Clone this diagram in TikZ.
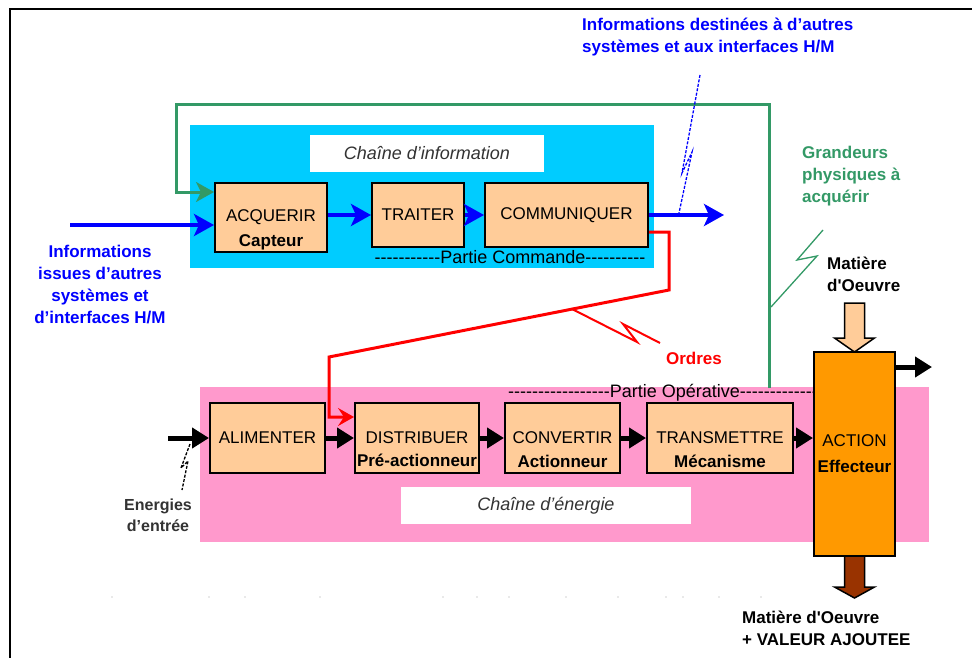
\documentclass[tikz,border=0pt]{standalone}
\usepackage{fontspec}
\setmainfont{Liberation Sans}[Ligatures=TeXOff]
\usetikzlibrary{arrows.meta}
\definecolor{cyanfond}{HTML}{00CCFF}
\definecolor{rosefond}{HTML}{FF99CC}
\definecolor{peche}{HTML}{FFCC99}
\definecolor{orangeact}{HTML}{FF9900}
\definecolor{brunsortie}{HTML}{993300}
\definecolor{vertgr}{HTML}{339966}
\definecolor{gristexte}{HTML}{333333}
\tikzset{
  etape/.style={draw,line width=2pt,fill=peche,inner sep=0pt,font=\fontsize{17}{20}\selectfont},
  sous/.style={anchor=base,inner sep=0pt,font=\bfseries\fontsize{17}{20}\selectfont},
  titre/.style={fill=white,inner sep=0pt,text=gristexte,font=\itshape\fontsize{18}{20}\selectfont},
  partie/.style={anchor=base,inner sep=0pt,font=\fontsize{18}{20}\selectfont},
  legende/.style={inner sep=0pt,align=left,font=\bfseries\fontsize{17}{22}\selectfont},
  bleu/.style={draw=blue,line width=4pt,-{Stealth[length=20pt,width=22pt,inset=5pt]}},
  vert/.style={draw=vertgr,line width=3pt,-{Stealth[length=18pt,width=20pt,inset=5pt]}},
  rouge/.style={draw=red,line width=3pt,-{Stealth[length=16pt,width=18pt,inset=6pt]}},
  noir/.style={draw=black,line width=5pt,-{Triangle[length=17pt,width=20pt]}},
  eclair/.style={line width=1.3pt},
}
\begin{document}
\begin{tikzpicture}[x=1pt,y=-1pt]
\useasboundingbox (0,0) rectangle (972,658);
% cadre
\draw[line width=2pt] (10,658) -- (10,9) -- (972,9);
% fonds des deux chaines
\node[fill=cyanfond,minimum width=464,minimum height=143,inner sep=0pt] (pc) at (422,196.5) {};
\node[fill=rosefond,minimum width=729,minimum height=155,inner sep=0pt] (po) at (564.5,464.5) {};
\node[titre,minimum width=234,minimum height=37] (tInfo) at (427,153.5) {Chaîne d’information};
\node[titre,minimum width=290,minimum height=37] (tEner) at (546,505.5) {Chaîne d’énergie};
% chaine d'information
\node[etape,minimum width=112,minimum height=69] (acq) at (271,217.5) {ACQUERIR};
\node[sous] (capt) at ([yshift=7pt]acq.south) {Capteur};
\node[etape,minimum width=92,minimum height=64] (trait) at (418,215) {TRAITER};
\node[etape,minimum width=163,minimum height=64] (comm) at (566.5,215) {COMMUNIQUER};
\node[partie] (pcmd) at (510,263) {-----------Partie Commande----------};
% chaine d'energie
\node[etape,minimum width=115,minimum height=70] (alim) at (267.5,438) {ALIMENTER};
\node[etape,minimum width=124,minimum height=70] (distr) at (417,438) {DISTRIBUER};
\node[sous] (preact) at ([yshift=8pt]distr.south) {Pré-actionneur};
\node[etape,minimum width=115,minimum height=70] (conv) at (562.5,438) {CONVERTIR};
\node[sous] (actr) at ([yshift=7pt]conv.south) {Actionneur};
\node[etape,minimum width=146,minimum height=70] (trans) at (720,438) {TRANSMETTRE};
\node[sous] (meca) at ([yshift=7pt]trans.south) {Mécanisme};
\node[partie] (pop) at (663,397) {-----------------Partie Opérative-------------};
% matiere d'oeuvre
\draw[line width=1.5pt,fill=peche,shift={(854.5,352)}] (-10,-49) -- (10,-49) -- (10,-14) -- (20,-14) -- (0,0) -- (-20,-14) -- (-10,-14) -- cycle;
\draw[line width=1.5pt,fill=brunsortie,shift={(854.5,556)}] (-10,0) -- (10,0) -- (10,31) -- (20,31) -- (0,42) -- (-20,31) -- (-10,31) -- cycle;
\node[etape,fill=orangeact,minimum width=81,minimum height=204,align=center] (action) at (854.5,454) {ACTION\\[6pt]\textbf{Effecteur}};
% fleches d'information
\coordinate (infoIn) at (70,215);
\coordinate (infoOut) at (724,215);
\draw[bleu] ([yshift=-10pt]infoIn) -- ([yshift=-7.5pt]acq.west);
\draw[bleu] (acq.east |- trait.west) -- (trait.west);
\draw[bleu] (trait.east) -- (comm.west);
\draw[bleu] (comm.east) -- (infoOut);
% grandeurs physiques
\coordinate (grDep) at (769,388);
\coordinate (grHaut) at (176,105);
\draw[vert] (grDep) |- (grHaut) |- ([yshift=-10pt]acq.north west);
% ordres
\coordinate (ord1) at (669,290);
\coordinate (ord2) at (329,357);
\draw[rouge] ([yshift=-17pt]comm.east) -| (ord1) -- (ord2) |- ([yshift=21pt]distr.west);
% energie
\coordinate (enIn) at (168,438);
\coordinate (sortie) at (932,367);
\draw[noir] (enIn) -- (alim.west);
\draw[noir] (alim.east) -- (distr.west);
\draw[noir] (distr.east) -- (conv.west);
\draw[noir] (conv.east) -- (trans.west);
\draw[noir] (trans.east) -- (trans.east -| action.west);
\draw[noir] (sortie -| action.east) -- (sortie);
% eclairs
\draw[eclair,blue,dash pattern=on 3pt off 1.5pt] (700,75) -- (682,173) -- (692,152) -- (679,213);
\draw[eclair,vertgr] (823,230) -- (797,260) -- (817,256) -- (771,307);
\draw[eclair,red,line width=2pt] (572,309) -- (637,342) -- (623,324) -- (660,343);
\draw[eclair,black,dash pattern=on 3pt off 1.5pt] (190,444) -- (181,468) -- (188,461) -- (182,490);
% textes
\node[legende,text=blue,anchor=north west] (infoDest) at (582,18) {Informations destinées à d’autres\\systèmes et aux interfaces H/M};
\node[legende,text=blue,align=center,anchor=north] (infoIss) at (100,245) {Informations\\issues d’autres\\systèmes et\\d’interfaces H/M};
\node[legende,text=vertgr,anchor=north west] (grand) at (802,146) {Grandeurs\\physiques à\\acquérir};
\node[legende,text=red,anchor=base] (ordres) at (694,364) {Ordres};
\node[legende,anchor=north west] (matE) at (827,257) {Matière\\d'Oeuvre};
\node[legende,anchor=north west] (matS) at (742,611) {Matière d'Oeuvre\\+ VALEUR AJOUTEE};
\node[legende,align=center,anchor=north,text=gristexte,font=\bfseries\fontsize{16}{21}\selectfont] (ener) at (158,499) {Energies\\d’entrée};
% traces pales
\foreach \x in {112,209,245,320,443,477,509,566,618,666,683,719,761}
  \fill[gray!35] (\x,597) circle (0.8);
\end{tikzpicture}
\end{document}
